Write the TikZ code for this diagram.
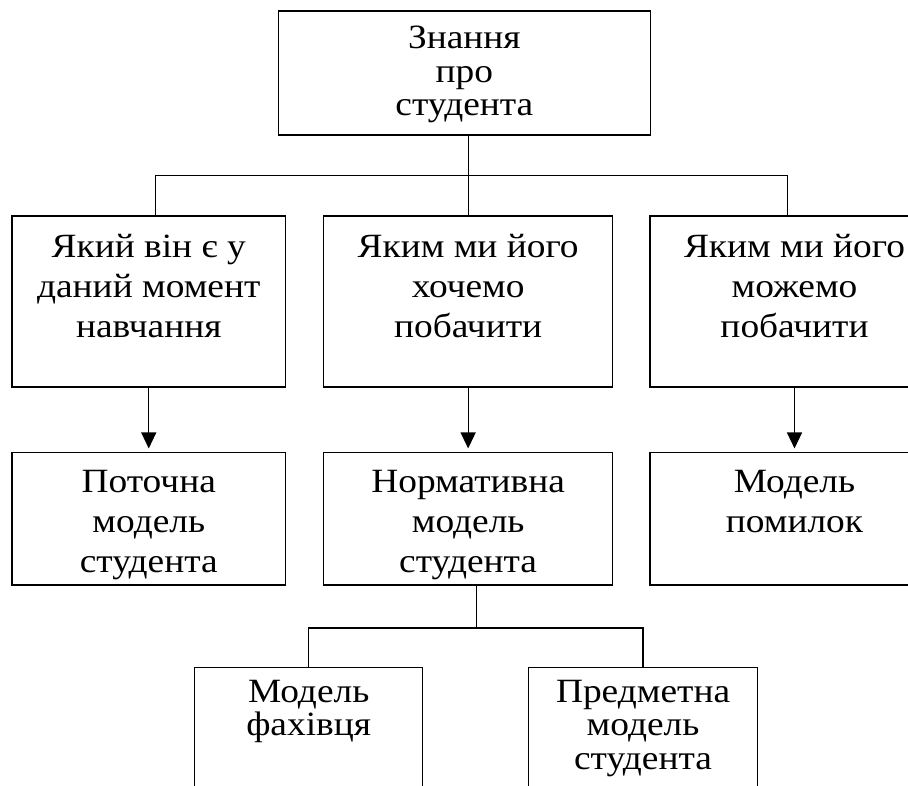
\documentclass[tikz,border=0pt]{standalone}
\usepackage{fontspec}
\setmainfont{Liberation Serif}[FakeStretch=1.1]
\usetikzlibrary{calc,arrows.meta}

\tikzset{
  box/.style={draw, rectangle, line width=1.5pt, inner sep=0pt},
  label text/.style={anchor=north, align=center, inner sep=0pt,
    execute at begin node={\rule{0pt}{26pt}}},
  loose/.style={label text, font=\fontsize{34}{40}\selectfont},
  tight/.style={label text, font=\fontsize{34}{33.5}\selectfont},
  link/.style={line width=1.3pt},
  arrow/.style={link, -{Triangle[width=15pt,length=16pt]}, shorten >=3.5pt},
}

\begin{document}
\begin{tikzpicture}[x=1pt, y=-1pt]
  \useasboundingbox (0,0) rectangle (908,785);
  \clip (0,0) rectangle (908,785);

  % root
  \node[box, minimum width=372pt, minimum height=124pt] (top) at (464.4,73) {};
  \node[tight] (ttop) at ([yshift=-16pt]top.north) {Знання\\про\\студента};

  % second row
  \node[box, minimum width=273.5pt, minimum height=171pt] (b1) at (148.75,301.5) {};
  \node[box, minimum width=289pt, minimum height=171pt] (b2) at (468.15,301.5) {};
  \node[box, minimum width=289pt, minimum height=171pt] (b3) at (794.5,301.5) {};
  \node[loose] (tb1) at ([yshift=-19pt]b1.north) {Який він є у\\даний момент\\навчання};
  \node[loose] (tb2) at ([yshift=-19pt]b2.north) {Яким ми його\\хочемо\\побачити};
  \node[loose] (tb3) at ([yshift=-19pt]b3.north) {Яким ми його\\можемо\\побачити};

  % third row
  \node[box, minimum width=273.5pt, minimum height=132.3pt] (m1) at (148.75,518.85) {};
  \node[box, minimum width=289pt, minimum height=132.3pt] (m2) at (468.15,518.85) {};
  \node[box, minimum width=289pt, minimum height=132.3pt] (m3) at (794.5,518.85) {};
  \node[loose] (tm1) at ([yshift=-18pt]m1.north) {Поточна\\модель\\студента};
  \node[loose] (tm2) at ([yshift=-18pt]m2.north) {Нормативна\\модель\\студента};
  \node[loose] (tm3) at ([yshift=-18pt]m3.north) {Модель\\помилок};

  % bottom row
  \node[box, minimum width=228pt, minimum height=132pt] (f1) at (308.65,733.3) {};
  \node[box, minimum width=228.7pt, minimum height=132pt] (f2) at (643.05,733.3) {};
  \node[tight] (tf1) at ([yshift=-13pt]f1.north) {Модель\\фахівця};
  \node[tight] (tf2) at ([yshift=-13pt]f2.north) {Предметна\\модель\\студента};

  % root to second row
  \draw[link] (top.south -| b2.north) -- (b2.north);
  \draw[link] ($(b1.north)+(7,0)$) -- ++(0,-40) -| ($(b3.north)+(-7,0)$);

  % second row to third row
  \draw[arrow] (b1.south) -- (m1.north);
  \draw[arrow] (b2.south) -- (m2.north);
  \draw[arrow] (b3.south) -- (m3.north);

  % normative model to its parts
  \draw[link] ($(m2.south)+(8,0)$) -- ++(0,42.3) coordinate (j2);
  \draw[link] (f1.north) |- (j2) -| (f2.north);
\end{tikzpicture}
\end{document}
